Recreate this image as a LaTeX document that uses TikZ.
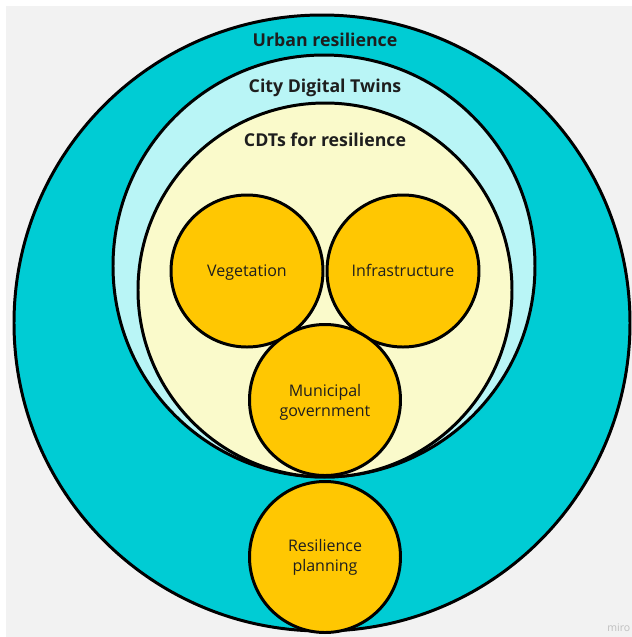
\documentclass[tikz,border=0pt]{standalone}
\usepackage{fontspec}
\setmainfont{Open Sans}
\definecolor{bggray}{HTML}{F2F2F2}
\definecolor{urban}{HTML}{00CCD4}
\definecolor{twins}{HTML}{B9F5F6}
\definecolor{cdt}{HTML}{FAFACB}
\definecolor{topic}{HTML}{FFC702}
\definecolor{ink}{HTML}{1E1E1E}

\begin{document}
\begin{tikzpicture}[x=0.02cm, y=0.02cm]
  \tikzstyle{every node}+=[inner sep=0pt, text=ink]
  \tikzstyle{ring}=[black, line width=1.7pt]
  \tikzstyle{title}=[font=\fontsize{10.1}{12}\selectfont\bfseries]
  \tikzstyle{topiclbl}=[font=\fontsize{9.1}{11.4}\selectfont, align=center]
  \tikzstyle{oneline}=[text height=1.6ex, text depth=0.5ex]
  \useasboundingbox (0,0) rectangle (632,-637);
  \fill [bggray] (6,-6) rectangle (632,-637);
  % nested areas
  \draw [ring, fill=urban] (322,-323) circle (308);
  \draw [ring, fill=twins] (324,-266) circle (211);
  \draw [ring, fill=cdt] (325,-290) circle (187);
  % topics
  \draw [ring, fill=topic] (247,-271) circle (76);
  \draw [ring, fill=topic] (403,-271) circle (76);
  \draw [ring, fill=topic] (325,-400) circle (75.5);
  \draw [ring, fill=topic] (325,-557) circle (75.5);
  % labels
  \draw (325,-40) node (urbanlbl) [title] {Urban resilience};
  \draw (325,-88) node (twinslbl) [title] {City Digital Twins};
  \draw (325,-140) node (cdtlbl) [title] {CDTs for resilience};
  \draw (247,-271) node (veg) [topiclbl, oneline] {Vegetation};
  \draw (403,-271) node (infra) [topiclbl, oneline] {Infrastructure};
  \draw (325,-402) node (gov) [topiclbl] {Municipal\\government};
  \draw (325,-557) node (plan) [topiclbl] {Resilience\\planning};
  \draw (607,-628) node (miro) [anchor=west, text=black!25, font=\fontsize{6}{7}\selectfont] {miro};
\end{tikzpicture}
\end{document}
